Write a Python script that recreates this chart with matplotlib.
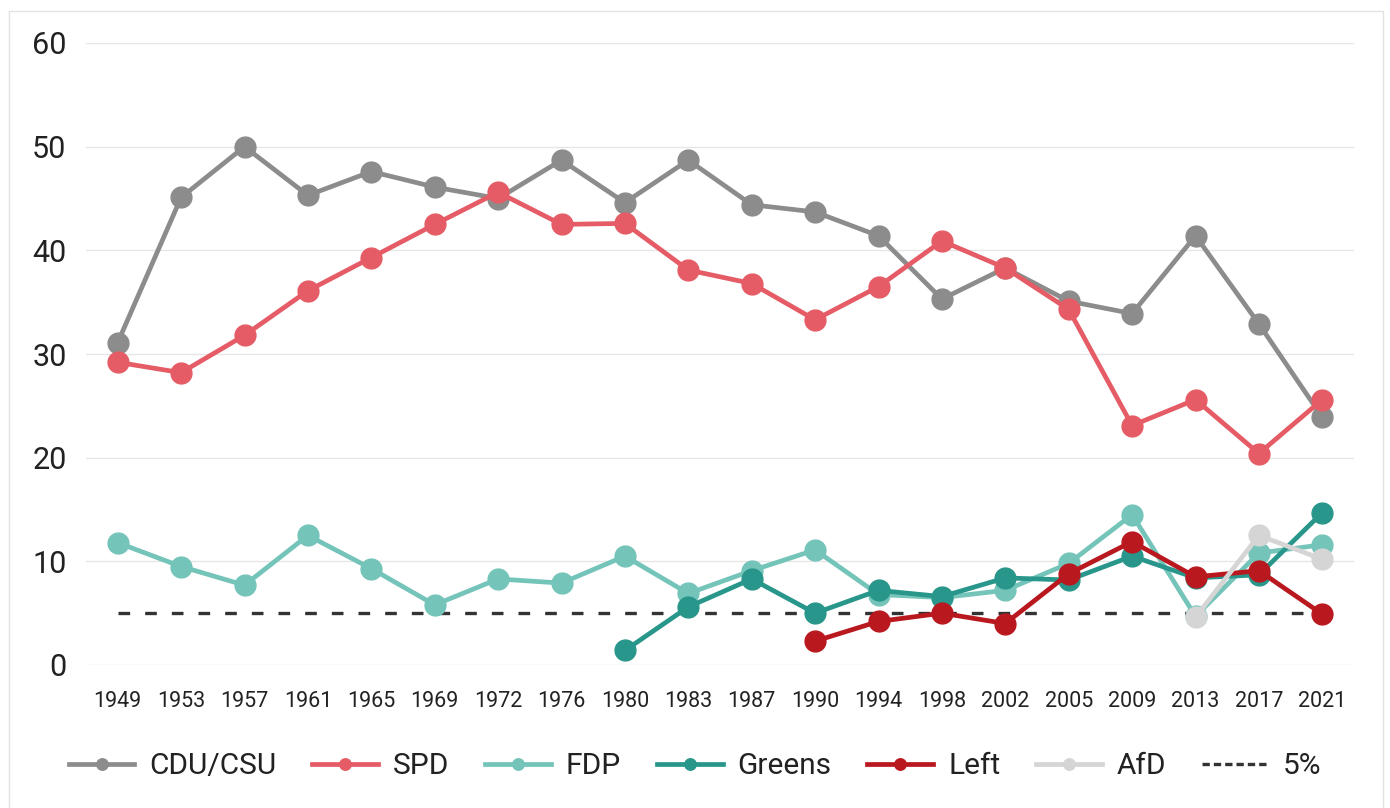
import matplotlib
matplotlib.use("Agg")
import matplotlib.pyplot as plt
from matplotlib.patches import Rectangle
from matplotlib.lines import Line2D
import numpy as np

plt.rcParams["font.family"] = ["Roboto", "DejaVu Sans"]

years = ["1949", "1953", "1957", "1961", "1965", "1969", "1972", "1976", "1980", "1983",
         "1987", "1990", "1994", "1998", "2002", "2005", "2009", "2013", "2017", "2021"]

nan = np.nan
cdu = [31.1, 45.1, 50.0, 45.3, 47.6, 46.1, 45.0, 48.7, 44.6, 48.7,
       44.4, 43.7, 41.4, 35.3, 38.3, 35.1, 33.9, 41.4, 32.9, 23.9]
spd = [29.2, 28.2, 31.8, 36.1, 39.3, 42.5, 45.6, 42.5, 42.6, 38.1,
       36.8, 33.3, 36.5, 40.9, 38.3, 34.3, 23.1, 25.6, 20.4, 25.6]
fdp = [11.8, 9.5, 7.7, 12.5, 9.3, 5.8, 8.3, 7.9, 10.5, 6.9,
       9.1, 11.1, 6.8, 6.5, 7.2, 9.8, 14.5, 4.7, 10.8, 11.6]
greens = [nan, nan, nan, nan, nan, nan, nan, nan, 1.4, 5.6,
          8.3, 5.0, 7.2, 6.6, 8.4, 8.2, 10.5, 8.4, 8.7, 14.7]
left = [nan, nan, nan, nan, nan, nan, nan, nan, nan, nan,
        nan, 2.3, 4.2, 5.0, 4.0, 8.8, 11.9, 8.5, 9.1, 4.9]
afd = [nan, nan, nan, nan, nan, nan, nan, nan, nan, nan,
       nan, nan, nan, nan, nan, nan, nan, 4.6, 12.5, 10.2]
threshold = 5

series = [
    ("CDU/CSU", cdu, "#8c8c8c"),
    ("SPD", spd, "#e55c66"),
    ("FDP", fdp, "#74c4b9"),
    ("Greens", greens, "#28968a"),
    ("Left", left, "#b9181f"),
    ("AfD", afd, "#d5d5d5"),
]

fig = plt.figure(figsize=(13.9, 8.08), dpi=100)
ax = fig.add_axes([86 / 1390, 1 - 665 / 808, (1354 - 86) / 1390, (665 - 43) / 808])

x = np.arange(len(years))
handles = []
for name, vals, col in series:
    h, = ax.plot(x, vals, color=col, lw=3.4, marker="o", ms=15, label=name, zorder=3)
    handles.append(h)

ax.plot([x[0], x[-1]], [threshold, threshold], color="#333333",
        lw=2.4, ls=(0, (3.5, 4.5)), zorder=2)
# denser dashes for the legend key, as in the original
handles.append(Line2D([], [], color="#333333", lw=2.4, ls=(0, (2.2, 1.2)), label="5%"))

ax.set_xlim(-0.5, len(years) - 0.5)
ax.set_ylim(0, 60)
ax.set_yticks([0, 10, 20, 30, 40, 50, 60])
ax.set_xticks(x)
ax.set_xticklabels(years)
ax.tick_params(axis="x", length=0, pad=19, labelsize=15.5, colors="#222222")
ax.tick_params(axis="y", length=0, pad=14, labelsize=22, colors="#222222")
ax.grid(True, axis="y", color="#e6e6e6", lw=1)
ax.set_axisbelow(True)
for s in ax.spines.values():
    s.set_visible(False)

fig.legend(handles=handles, loc="center", bbox_to_anchor=(0.5, 1 - 766 / 808),
           ncol=7, frameon=False, fontsize=21.5, markerscale=0.55,
           handlelength=2.2, columnspacing=1.2, handletextpad=0.5,
           labelcolor="#222222")

fig.patches.append(Rectangle((9 / 1390, -0.01), (1383 - 9) / 1390, 1 - 11 / 808 + 0.01,
                             transform=fig.transFigure, fill=False,
                             edgecolor="#e3e3e3", lw=1))

fig.savefig("out.png", dpi=100)
